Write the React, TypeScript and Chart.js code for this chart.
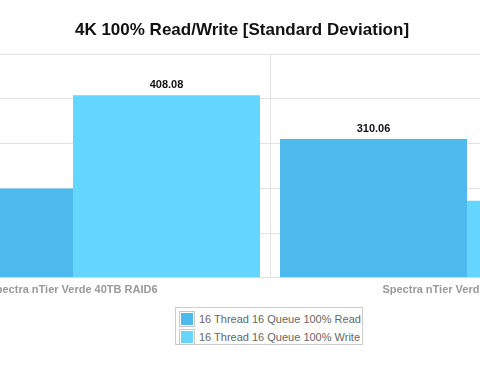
import React, { useEffect, useRef } from "react";
import { Chart, registerables } from "chart.js";

Chart.register(...registerables);

const categories = ["Spectra nTier Verde 40TB RAID6", "Spectra nTier Verde 40TB RAID5"];
const readValues = [199.6, 310.06];
const writeValues = [408.08, 172.4];
const seriesNames = ["16 Thread 16 Queue 100% Read", "16 Thread 16 Queue 100% Write"];
const seriesColors = ["#4eb9eb", "#64d6ff"];
const yTicks = [0, 100, 200, 300, 400, 500];
const title = "4K 100% Read/Write [Standard Deviation]";

const FONT = "'Liberation Sans', Arial, Helvetica, sans-serif";

const valueLabels = {
  id: "valueLabels",
  afterDatasetsDraw(chart: any) {
    const ctx = chart.ctx;
    ctx.save();
    ctx.font = `bold 11px ${FONT}`;
    ctx.fillStyle = "#111";
    ctx.textAlign = "center";
    ctx.textBaseline = "alphabetic";
    chart.data.datasets.forEach((ds: any, i: number) => {
      const meta = chart.getDatasetMeta(i);
      meta.data.forEach((el: any, j: number) => {
        ctx.fillText(Number(ds.data[j]).toFixed(2), el.x, el.y - 7);
      });
    });
    ctx.restore();
  },
};

export default function App() {
  const ref = useRef<HTMLCanvasElement>(null);
  useEffect(() => {
    if (!ref.current) return;
    const chart = new Chart(ref.current, {
      type: "bar",
      data: {
        labels: categories,
        datasets: [
          { label: seriesNames[0], data: readValues, backgroundColor: seriesColors[0], categoryPercentage: 374 / 394, barPercentage: 1 },
          { label: seriesNames[1], data: writeValues, backgroundColor: seriesColors[1], categoryPercentage: 374 / 394, barPercentage: 1 },
        ],
      },
      options: {
        responsive: false,
        animation: false,
        devicePixelRatio: 1,
        layout: { padding: { left: 0, right: 10, top: 0, bottom: 0 } },
        plugins: {
          legend: { display: false },
          tooltip: { enabled: false },
          title: {
            display: true,
            text: title,
            color: "#111",
            font: { family: FONT, size: 17, weight: "bold" },
            padding: { top: 20, bottom: 13.6 },
          },
        },
        scales: {
          x: {
            grid: { color: "#e2e2e2", drawTicks: false },
            border: { color: "#e2e2e2" },
            ticks: { color: "#999", font: { family: FONT, size: 11, weight: "bold" }, padding: 6 },
          },
          y: {
            min: 0,
            max: 500,
            afterFit(scale: any) {
              scale.width = 56;
            },
            afterBuildTicks(scale: any) {
              scale.ticks = yTicks.map((v) => ({ value: v }));
            },
            grid: { color: "#e2e2e2", drawTicks: false },
            border: { color: "#e2e2e2" },
            ticks: { color: "#999", font: { family: FONT, size: 11 }, padding: 6 },
          },
        },
      },
      plugins: [valueLabels],
    } as any);
    return () => chart.destroy();
  }, []);

  return (
    <div style={{ position: "fixed", left: 0, top: 0, width: 480, height: 376, overflow: "hidden", background: "#fff" }}>
      <div style={{ position: "absolute", left: -180, top: 0, width: 854, height: 303 }}>
        <canvas ref={ref} width={854} height={303} style={{ display: "block" }} />
      </div>
      <div
        style={{
          position: "absolute",
          left: 175,
          top: 307,
          width: 186,
          height: 36,
          border: "1px solid #ccc",
          fontFamily: FONT,
          fontSize: 11,
          color: "#666",
          boxSizing: "content-box",
        }}
      >
        {seriesNames.map((n, i) => (
          <div key={n} style={{ display: "flex", alignItems: "center", height: 18, marginTop: i === 0 ? 2 : 0, marginLeft: 3 }}>
            <span
              style={{
                display: "inline-block",
                width: 16,
                height: 16,
                padding: 1,
                background: seriesColors[i],
                backgroundClip: "content-box",
                border: "1px solid #c8c8c8",
                marginRight: 4,
                boxSizing: "border-box",
              }}
            />
            <span>{n}</span>
          </div>
        ))}
      </div>
    </div>
  );
}
